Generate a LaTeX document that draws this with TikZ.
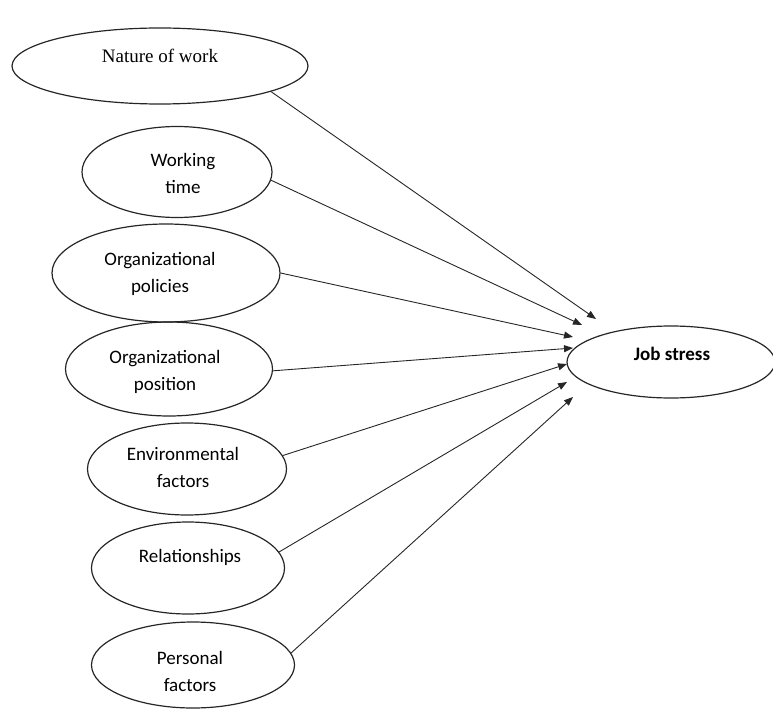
\documentclass[tikz,border=0pt]{standalone}
\usepackage{fontspec}
\setmainfont{Carlito}
\newfontfamily\serifrm{Liberation Serif}
\usetikzlibrary{shapes.geometric,arrows.meta}
\tikzset{
  ell/.style={draw=black!85, ellipse, line width=1.2pt, inner sep=0pt},
  lbl/.style={font=\fontsize{19}{27}\selectfont, align=center, inner sep=0pt},
  conn/.style={draw=black!85, line width=0.9pt, -{Triangle[length=9pt,width=7pt]}}
}
\begin{document}
\begin{tikzpicture}[x=1pt,y=-1pt]
\useasboundingbox (0,0) rectangle (773,711);
% ellipses
\node[ell, minimum width=296pt, minimum height=76pt] (nw) at (160,66) {};
\node[ell, minimum width=190pt, minimum height=91pt] (wt) at (177,172) {};
\node[ell, minimum width=228pt, minimum height=98pt] (op) at (166,273) {};
\node[ell, minimum width=207pt, minimum height=94pt] (opos) at (169,369) {};
\node[ell, minimum width=199pt, minimum height=92pt] (env) at (187,469) {};
\node[ell, minimum width=193pt, minimum height=92pt] (rel) at (188,568) {};
\node[ell, minimum width=203pt, minimum height=86pt] (pers) at (193,665) {};
\node[ell, minimum width=208pt, minimum height=72pt] (js) at (671,362) {};
% labels
\node[lbl, font=\serifrm\fontsize{19}{23}\selectfont] (tnw) at (160,56) {Nature of work};
\node[lbl] (twt) at (183,173) {Working\\time};
\node[lbl] (top) at (160,274) {Organizational\\policies};
\node[lbl] (topos) at (165,372) {Organizational\\position};
\node[lbl] (tenv) at (183,467) {Environmental\\factors};
\node[lbl] (trel) at (190,557) {Relationships};
\node[lbl] (tpers) at (190,671) {Personal\\factors};
\node[lbl, font=\bfseries\fontsize{19}{23}\selectfont] (tjs) at (672,354) {Job stress};
% arrow tips
\coordinate (t1) at (596,319);
\coordinate (t2) at (582,325);
\coordinate (t3) at (573,337);
\coordinate (t4) at (573,348);
\coordinate (t5) at (567,364);
\coordinate (t6) at (567,382);
\coordinate (t7) at (573,397);
% connectors
\draw[conn] (nw.-13) -- (t1);
\draw[conn] (wt.-5) -- (t2);
\draw[conn] (op.0) -- (t3);
\draw[conn] (opos.-1) -- (t4);
\draw[conn] (env.8) -- (t5);
\draw[conn] (rel.10) -- (t6);
\draw[conn] (pers.7) -- (t7);
\end{tikzpicture}
\end{document}
